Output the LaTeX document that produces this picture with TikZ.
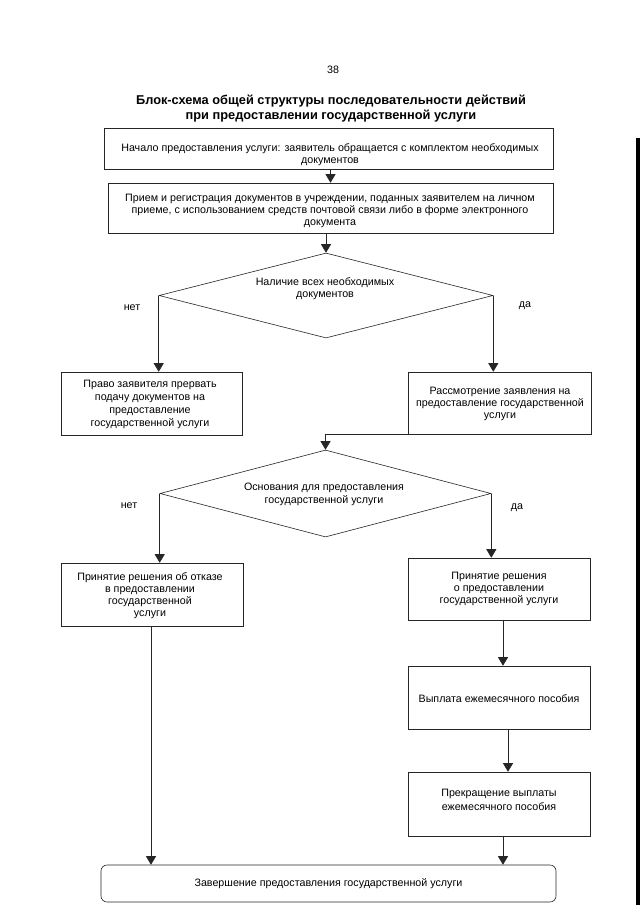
\documentclass[tikz,border=0pt]{standalone}
\usepackage{fontspec}
\setmainfont{Liberation Sans}
\usetikzlibrary{arrows.meta,shapes.geometric}
\tikzset{
  ln/.style={line width=0.6pt, draw=black!85},
  arr/.style={ln, -{Triangle[width=10pt,length=8.5pt]}},
  boxnode/.style={ln, rectangle, inner sep=0pt},
  endbox/.style={ln, rectangle, rounded corners=6pt, inner sep=0pt},
  decision/.style={ln, diamond, inner sep=0pt},
  txt/.style={align=center, inner sep=0pt, font=\fontsize{10.7}{12}\selectfont},
  lbl/.style={inner sep=0pt, font=\fontsize{10.7}{12}\selectfont},
}
\begin{document}
\begin{tikzpicture}[x=1pt,y=-1pt]
\useasboundingbox (0,0) rectangle (640,905);
\fill[white] (0,0) rectangle (640,905);
\fill[black] (636,138) rectangle (640,905);

% page number and title
\node[lbl] (pg) at (333,70) {38};
\node[align=center, inner sep=0pt, font=\fontsize{12.8}{15}\selectfont\bfseries] (title) at (331,108.5)
  {Блок-схема общей структуры последовательности действий\\при предоставлении государственной услуги};

% boxes
\node[boxnode, minimum width=449pt, minimum height=41pt] (b1) at (328.5,148.5) {};
\node[boxnode, minimum width=445pt, minimum height=50pt] (b2) at (330.5,208) {};
\node[decision, minimum width=334pt, minimum height=85pt] (d1) at (326,295.5) {};
\node[boxnode, minimum width=181pt, minimum height=63pt] (b3) at (151.5,403.5) {};
\node[boxnode, minimum width=183pt, minimum height=62pt] (b4) at (499.5,403) {};
\node[decision, minimum width=331pt, minimum height=87pt] (d2) at (325.5,493.5) {};
\node[boxnode, minimum width=182pt, minimum height=63pt] (b5) at (152,594.5) {};
\node[boxnode, minimum width=182pt, minimum height=62pt] (b6) at (499,589) {};
\node[boxnode, minimum width=182pt, minimum height=63pt] (b7) at (499,697.5) {};
\node[boxnode, minimum width=182pt, minimum height=64pt] (b8) at (499,804) {};
\node[endbox, minimum width=455pt, minimum height=37pt] (b9) at (328.5,883.5) {};

% texts
\node[txt] (t1) at (330,154.5) {Начало предоставления услуги: заявитель обращается с комплектом необходимых\\документов};
\node[txt] (t2) at (330,211) {Прием и регистрация документов в учреждении, поданных заявителем на личном\\приеме, с использованием средств почтовой связи либо в форме электронного\\документа};
\node[txt] (td1) at (325,288.5) {Наличие всех необходимых\\документов};
\node[txt, font=\fontsize{10.7}{13}\selectfont] (t3) at (150,404.5) {Право заявителя прервать\\подачу документов на\\предоставление\\государственной услуги};
\node[txt] (t4) at (500,403.5) {Рассмотрение заявления на\\предоставление государственной\\услуги};
\node[txt, font=\fontsize{10.7}{13}\selectfont] (td2) at (324,494.5) {Основания для предоставления\\государственной услуги};
\node[txt] (t5) at (150,595.5) {Принятие решения об отказе\\в предоставлении\\государственной\\услуги};
\node[txt] (t6) at (499,589) {Принятие решения\\о предоставлении\\государственной услуги};
\node[txt] (t7) at (499,699) {Выплата ежемесячного пособия};
\node[txt, font=\fontsize{10.7}{14}\selectfont] (t8) at (499,800) {Прекращение выплаты\\ежемесячного пособия};
\node[txt] (t9) at (328.5,884) {Завершение предоставления государственной услуги};

% branch labels
\node[lbl] (n1) at (132,308) {нет};
\node[lbl] (y1) at (525,306) {да};
\node[lbl] (n2) at (129,506) {нет};
\node[lbl] (y2) at (517,508) {да};

% connectors
\draw[arr] (b1.south -| b2.north) -- (b2.north);
\draw[arr] (b2.south -| d1.north) -- (d1.north);
\draw[arr] (d1.west) -- (d1.west |- b3.north);
\draw[arr] (d1.east) -- (d1.east |- b4.north);
\draw[arr] (b4.south west) -- (b4.south west -| d2.north) -- (d2.north);
\draw[arr] (d2.west) -- (d2.west |- b5.north);
\draw[arr] (d2.east) -- (d2.east |- b6.north);
\draw[arr] ([xshift=4pt]b6.south) -- ([xshift=4pt]b7.north);
\draw[arr] ([xshift=9pt]b7.south) -- ([xshift=9pt]b8.north);
\draw[arr] ([xshift=4pt]b8.south) -- ([xshift=4pt]b8.south |- b9.north);
\draw[arr] ([xshift=-1pt]b5.south) -- ([xshift=-1pt]b5.south |- b9.north);
\end{tikzpicture}
\end{document}
